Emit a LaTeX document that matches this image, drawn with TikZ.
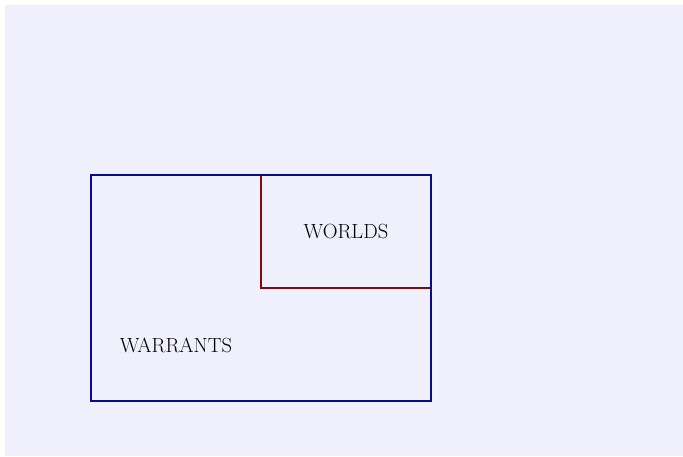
\documentclass[tikz,border=0pt]{standalone}
\definecolor{bgcol}{RGB}{240,240,252}
\definecolor{warrantcol}{RGB}{10,10,140}
\definecolor{worldcol}{RGB}{130,10,10}
\begin{document}
\begin{tikzpicture}[x=1pt,y=-1pt,
  region/.style={line width=1.6pt},
  lbl/.style={font=\fontsize{20.5}{23}\selectfont, inner sep=0pt, anchor=center}]
\useasboundingbox (0,0) rectangle (683,456);
\fill[bgcol] (5,5) rectangle (683,456);
\draw[region, worldcol] (261,175) rectangle (431,288);
\draw[region, warrantcol] (91,175) rectangle (431,401);
\node[lbl] (worlds) at (346,231) {WORLDS};
\node[lbl] (warrants) at (176,345) {WARRANTS};
\end{tikzpicture}
\end{document}
